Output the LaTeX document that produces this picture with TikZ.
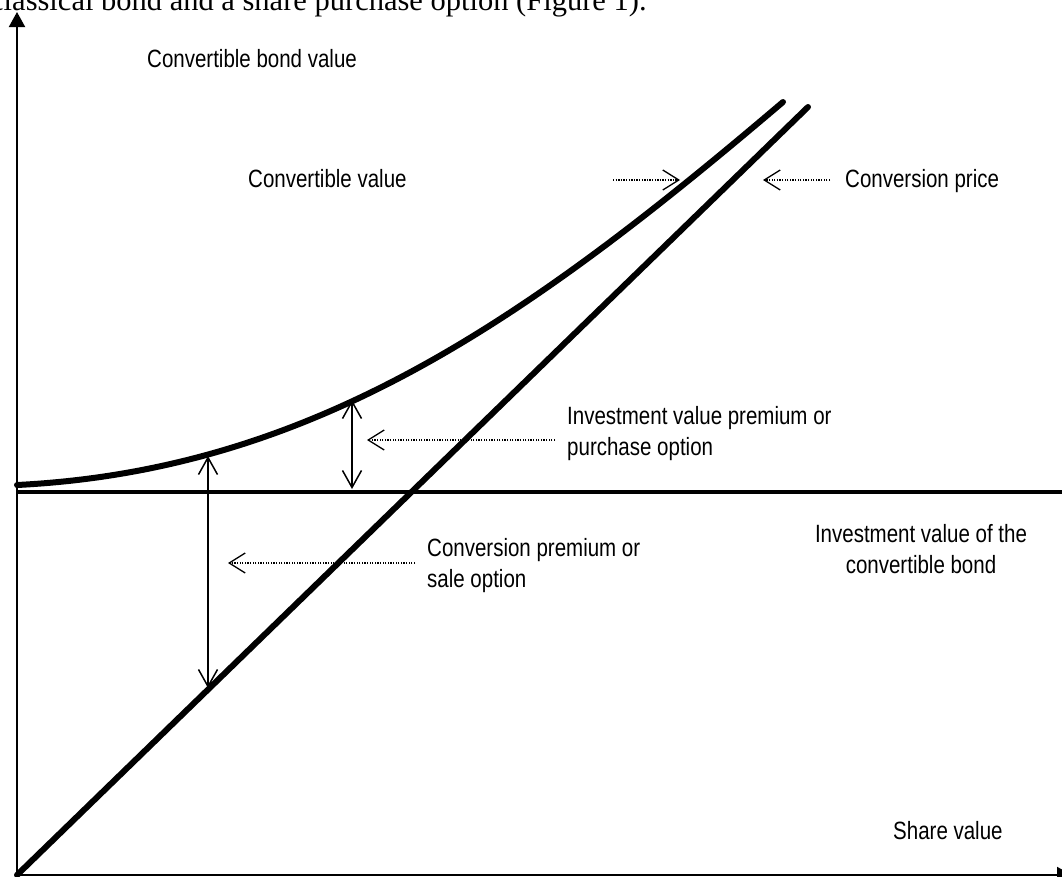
\documentclass[tikz,border=0pt]{standalone}
\usepackage{fontspec}
\setmainfont{Liberation Sans}[FakeStretch=0.82]
\newfontfamily\bodyserif{Liberation Serif}
\usetikzlibrary{arrows.meta}
\begin{document}
\begin{tikzpicture}[x=1pt,y=-1pt,
  lbl/.style={font=\fontsize{25}{31}\selectfont, inner sep=0pt, align=left},
  axis/.style={line width=2pt},
  heavy/.style={line width=6pt, line cap=round},
  bracket/.style={line width=1.5pt,
    {Straight Barb[length=17pt,width=19pt]}-{Straight Barb[length=17pt,width=19pt]}},
  leader/.style={line width=1.3pt, dash pattern=on 1.3pt off 1.3pt,
    -{Straight Barb[length=16pt,width=20pt]}},
]
\useasboundingbox (0,0) rectangle (1062,876);
\clip (0,0) rectangle (1062,876);

% running text of the page above the figure
\node[font=\bodyserif\fontsize{30.5}{36}\selectfont, anchor=base west, inner sep=0pt]
  (caption) at (-10,10) {classical bond and a share purchase option (Figure 1).};

% axes
\coordinate (O) at (17,875);
\coordinate (ytop) at (17,12);
\coordinate (xend) at (1072,875);
\draw[axis, -{Triangle[length=15pt,width=16pt]}] (O) -- (ytop);
\draw[axis, -{Triangle[length=15pt,width=16pt]}] (O) -- (xend);

% investment value of the bond
\coordinate (iv0) at (17,492);
\coordinate (iv1) at (1062,492);
\draw[line width=4.5pt] (iv0) -- (iv1);

% conversion price
\coordinate (cp1) at (808,107);
\draw[heavy] (O) -- (cp1);

% convertible value
\coordinate (cv0) at (17,485);
\coordinate (cv1) at (783,102);
\draw[heavy] (cv0) .. controls (317,470) and (533,314.5) .. (cv1);

% premiums
\coordinate (a1t) at (352,400);
\coordinate (a1b) at (352,489);
\coordinate (a2t) at (208,456);
\coordinate (a2b) at (208,688);
\draw[bracket] (a1t) -- (a1b);
\draw[bracket] (a2t) -- (a2b);

% labels (multi-line nodes are placed by the baseline of their last line)
\node[lbl, anchor=base west] (ylab) at (147,67) {Convertible bond value};
\node[lbl, anchor=base west] (cvlab) at (248,187) {Convertible value};
\node[lbl, anchor=base west] (cplab) at (845,187) {Conversion price};
\node[lbl, anchor=base west] (ivplab) at (567,455) {Investment value premium or\\purchase option};
\node[lbl, anchor=base west] (cprlab) at (427,587) {Conversion premium or\\sale option};
\node[lbl, anchor=base, align=center] (ivlab) at (921,573) {Investment value of the\\convertible bond};
\node[lbl, anchor=base west] (xlab) at (893,839) {Share value};

% leaders
\coordinate (cvs) at (613,180);
\coordinate (cvt) at (680,180);
\coordinate (cps) at (830,180);
\coordinate (cpt) at (763,180);
\coordinate (ivs) at (555,440);
\coordinate (ivt) at (367,440);
\coordinate (crs) at (415,563);
\coordinate (crt) at (228,563);
\draw[leader] (cvs) -- (cvt);
\draw[leader] (cps) -- (cpt);
\draw[leader] (ivs) -- (ivt);
\draw[leader] (crs) -- (crt);
\end{tikzpicture}
\end{document}
